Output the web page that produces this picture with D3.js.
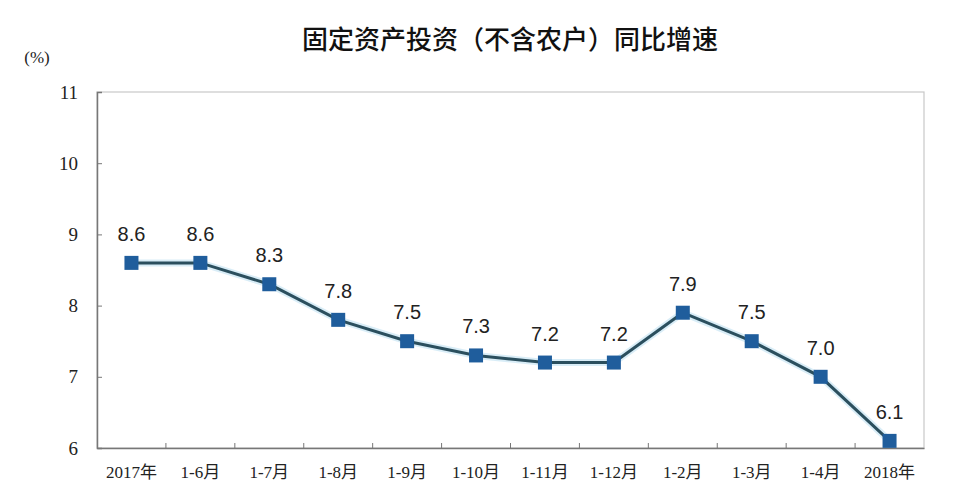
<!DOCTYPE html>
<html><head><meta charset="utf-8">
<script src="https://cdn.jsdelivr.net/npm/d3@7"></script>
<style>body{margin:0;background:#fff}</style>
</head><body>
<svg id="c" width="960" height="491"></svg>
<script>
const categories = ["2017年","1-6月","1-7月","1-8月","1-9月","1-10月","1-11月","1-12月","1-2月","1-3月","1-4月","2018年"];
const values = [8.6,8.6,8.3,7.8,7.5,7.3,7.2,7.2,7.9,7.5,7.0,6.1];
const yTicks = [6,7,8,9,10,11];
const title = "固定资产投资（不含农户）同比增速";
const unit = "(%)";

const svg = d3.select("#c");
const m = {l:97, t:92, r:924, b:448};
const x = d3.scaleBand().domain(categories).range([m.l, m.r]);
const y = d3.scaleLinear().domain([6,11]).range([m.b, m.t]);

svg.append("text").attr("x",510).attr("y",49).attr("text-anchor","middle")
  .style("font-family","'Noto Sans CJK SC'").style("font-size","26px").style("font-weight","500")
  .attr("fill","#111").text(title);
svg.append("text").attr("x",37).attr("y",63).attr("text-anchor","middle")
  .style("font-family","'Liberation Serif'").style("font-size","17px")
  .attr("fill","#222").text(unit);

// frame
svg.append("rect").attr("x",m.l).attr("y",m.t).attr("width",m.r-m.l).attr("height",m.b-m.t)
  .attr("fill","none").attr("stroke","#c8c8c8").attr("stroke-width",1.2);

// y axis
const ya = svg.append("g").attr("transform",`translate(${m.l},0)`)
  .call(d3.axisRight(y).tickValues(yTicks).tickSize(5).tickFormat(d3.format("d")));
ya.select(".domain").attr("stroke","#777").attr("stroke-width",1.5);
ya.selectAll(".tick line").attr("stroke","#777");
ya.selectAll(".tick text").attr("x",-19).attr("text-anchor","end").attr("dy","0.32em")
  .style("font-family","'Liberation Serif'").style("font-size","19px").attr("fill","#222");

// x axis
const xa = svg.append("g").attr("transform",`translate(0,${m.b})`)
  .call(d3.axisBottom(x).tickSize(0));
xa.select(".domain").attr("stroke","#777").attr("stroke-width",1.5);
xa.selectAll(".tick text").attr("y",18)
  .style("font-family","'Liberation Serif','Noto Sans CJK SC'").style("font-size","17px").attr("fill","#222");
// boundary ticks
svg.append("g").selectAll("line").data(categories.slice(1)).join("line")
  .attr("x1",d=>x(d)).attr("x2",d=>x(d)).attr("y1",m.b).attr("y2",m.b-5)
  .attr("stroke","#777").attr("stroke-width",1);

const cx = d => x(d) + x.bandwidth()/2;
const data = categories.map((c,i)=>({c, v:values[i]}));
const line = d3.line().x(d=>cx(d.c)).y(d=>y(d.v));
svg.append("path").datum(data).attr("d",line).attr("fill","none")
  .attr("stroke","#cfe8f5").attr("stroke-width",7).attr("opacity",0.8);
svg.append("path").datum(data).attr("d",line).attr("fill","none")
  .attr("stroke","#2b4f5e").attr("stroke-width",3);
svg.append("g").selectAll("rect").data(data).join("rect")
  .attr("x",d=>cx(d.c)-7).attr("y",d=>y(d.v)-7).attr("width",14).attr("height",14)
  .attr("fill","#1f5d9c");
svg.append("g").selectAll("text").data(data).join("text")
  .attr("x",d=>cx(d.c)).attr("y",d=>y(d.v)-22).attr("text-anchor","middle")
  .style("font-family","'Liberation Sans'").style("font-size","20px").attr("fill","#222")
  .text(d=>d.v.toFixed(1));
</script>
</body></html>
